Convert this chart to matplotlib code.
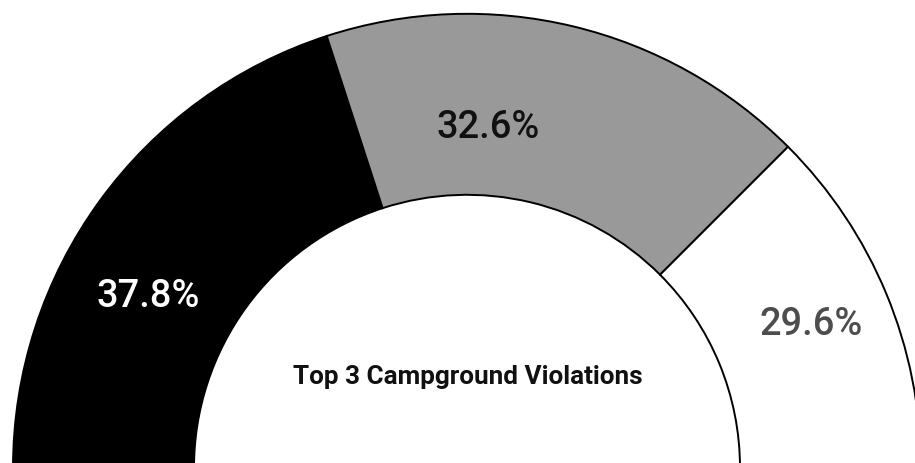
import matplotlib
matplotlib.use("Agg")
import matplotlib.pyplot as plt
import numpy as np

# ---- data ----
categories = ["Violation 1", "Violation 2", "Violation 3"]
slice_shares = [40.0, 35.0, 25.0]          # angular share of the half ring
pct_labels = ["37.8%", "32.6%", "29.6%"]   # printed labels
title_text = "Top 3 Campground Violations"

# ---- style / layout ----
W, H = 915, 464
slice_colors = ["#000000", "#999999", "#ffffff"]
label_colors = ["#ffffff", "#111111", "#4d4d4d"]
# label anchors in polar form relative to the ring centre (deg ccw from +x, radius px)
label_polar = [(153.06, 357.8), (86.3, 331.2), (21.27, 368.9)]
cx, cy = 467.0, H - 468.8
R_out, R_in = 454.0, 273.0

plt.rcParams["font.family"] = ["Roboto", "DejaVu Sans"]

fig = plt.figure(figsize=(W / 100, H / 100), dpi=100)
ax = fig.add_axes([0, 0, 1, 1])

values = slice_shares + [sum(slice_shares)]
colors = slice_colors + ["none"]
wedges, _ = ax.pie(values, colors=colors, startangle=180, counterclock=False,
                   radius=R_out, center=(cx, cy), frame=True,
                   wedgeprops=dict(width=R_out - R_in, edgecolor="black", linewidth=1.4))
wedges[-1].set_edgecolor("none")
wedges[-1].set_facecolor("none")

for txt, col, (ang, r) in zip(pct_labels, label_colors, label_polar):
    a = np.deg2rad(ang)
    ax.text(cx + r * np.cos(a), cy + r * np.sin(a), txt, color=col,
            fontsize=27.4, fontweight="medium", ha="center", va="baseline")

ax.text(468, H - 384, title_text, fontsize=18.8, fontweight="bold",
        color="#111111", ha="center", va="baseline")

ax.set_xlim(0, W)
ax.set_ylim(0, H)
ax.set_aspect("equal")
ax.axis("off")
fig.savefig("out.png", dpi=100)
